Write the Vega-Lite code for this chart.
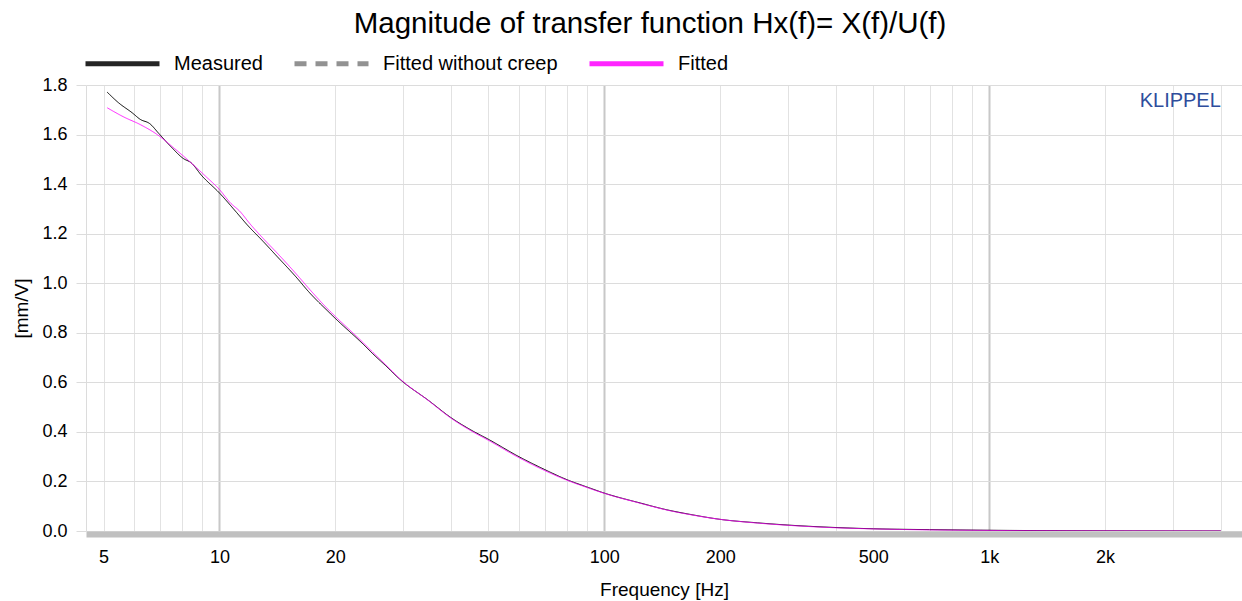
{
  "$schema": "https://vega.github.io/schema/vega-lite/v6.json",
  "width": 1156,
  "height": 446,
  "autosize": {"type": "none"},
  "padding": {"left": 86, "top": 85, "right": 0, "bottom": 70},
  "background": "white",
  "config": {
    "font": "Liberation Sans",
    "view": {"stroke": null},
    "axis": {"labelFont": "Liberation Sans", "titleFont": "Liberation Sans", "labelColor": "#000", "titleColor": "#000", "titleFontWeight": "normal"}
  },
  "title": {
    "text": "Magnitude of transfer function Hx(f)= X(f)/U(f)",
    "fontSize": 29.5,
    "font": "Liberation Sans",
    "fontWeight": "normal",
    "color": "#000",
    "anchor": "middle",
    "frame": "group",
    "baseline": "alphabetic",
    "dx": -14,
    "offset": -38
  },
  "datasets": {
    "measured": [
      {"series": "Measured", "f": 5.11, "v": 1.771},
      {"series": "Measured", "f": 5.47, "v": 1.728},
      {"series": "Measured", "f": 5.93, "v": 1.688},
      {"series": "Measured", "f": 6.23, "v": 1.661},
      {"series": "Measured", "f": 6.59, "v": 1.644},
      {"series": "Measured", "f": 6.96, "v": 1.604},
      {"series": "Measured", "f": 7.46, "v": 1.553},
      {"series": "Measured", "f": 8.08, "v": 1.502},
      {"series": "Measured", "f": 8.41, "v": 1.488},
      {"series": "Measured", "f": 9.02, "v": 1.432},
      {"series": "Measured", "f": 10, "v": 1.364},
      {"series": "Measured", "f": 11.1, "v": 1.284},
      {"series": "Measured", "f": 11.8, "v": 1.236},
      {"series": "Measured", "f": 13.0, "v": 1.168},
      {"series": "Measured", "f": 14.0, "v": 1.114},
      {"series": "Measured", "f": 15.9, "v": 1.021},
      {"series": "Measured", "f": 17.0, "v": 0.968},
      {"series": "Measured", "f": 19.4, "v": 0.878},
      {"series": "Measured", "f": 20, "v": 0.858},
      {"series": "Measured", "f": 23.7, "v": 0.752},
      {"series": "Measured", "f": 25, "v": 0.716},
      {"series": "Measured", "f": 27, "v": 0.668},
      {"series": "Measured", "f": 29.5, "v": 0.611},
      {"series": "Measured", "f": 35, "v": 0.526},
      {"series": "Measured", "f": 40, "v": 0.457},
      {"series": "Measured", "f": 45, "v": 0.408},
      {"series": "Measured", "f": 50, "v": 0.370},
      {"series": "Measured", "f": 60, "v": 0.300},
      {"series": "Measured", "f": 70, "v": 0.248},
      {"series": "Measured", "f": 80, "v": 0.207},
      {"series": "Measured", "f": 90, "v": 0.178},
      {"series": "Measured", "f": 100, "v": 0.153},
      {"series": "Measured", "f": 124, "v": 0.113},
      {"series": "Measured", "f": 145, "v": 0.086},
      {"series": "Measured", "f": 170, "v": 0.065},
      {"series": "Measured", "f": 200, "v": 0.047},
      {"series": "Measured", "f": 250, "v": 0.033},
      {"series": "Measured", "f": 300, "v": 0.024},
      {"series": "Measured", "f": 400, "v": 0.014},
      {"series": "Measured", "f": 500, "v": 0.009},
      {"series": "Measured", "f": 700, "v": 0.0055},
      {"series": "Measured", "f": 1000, "v": 0.003},
      {"series": "Measured", "f": 2000, "v": 0.0008},
      {"series": "Measured", "f": 4000, "v": 0.0002}
    ],
    "fitted": [
      {"series": "Fitted", "f": 5.11, "v": 1.708},
      {"series": "Fitted", "f": 5.64, "v": 1.671},
      {"series": "Fitted", "f": 6.23, "v": 1.640},
      {"series": "Fitted", "f": 6.89, "v": 1.600},
      {"series": "Fitted", "f": 7.61, "v": 1.546},
      {"series": "Fitted", "f": 8.41, "v": 1.488},
      {"series": "Fitted", "f": 9.2, "v": 1.432},
      {"series": "Fitted", "f": 10, "v": 1.378},
      {"series": "Fitted", "f": 10.68, "v": 1.324},
      {"series": "Fitted", "f": 11.3, "v": 1.290},
      {"series": "Fitted", "f": 12, "v": 1.240},
      {"series": "Fitted", "f": 13.0, "v": 1.180},
      {"series": "Fitted", "f": 14.0, "v": 1.128},
      {"series": "Fitted", "f": 15.9, "v": 1.034},
      {"series": "Fitted", "f": 17.0, "v": 0.982},
      {"series": "Fitted", "f": 19.4, "v": 0.886},
      {"series": "Fitted", "f": 20, "v": 0.866},
      {"series": "Fitted", "f": 23.7, "v": 0.758},
      {"series": "Fitted", "f": 25, "v": 0.722},
      {"series": "Fitted", "f": 27, "v": 0.672},
      {"series": "Fitted", "f": 29.5, "v": 0.613},
      {"series": "Fitted", "f": 35, "v": 0.525},
      {"series": "Fitted", "f": 40, "v": 0.455},
      {"series": "Fitted", "f": 45, "v": 0.405},
      {"series": "Fitted", "f": 50, "v": 0.366},
      {"series": "Fitted", "f": 60, "v": 0.296},
      {"series": "Fitted", "f": 70, "v": 0.244},
      {"series": "Fitted", "f": 80, "v": 0.205},
      {"series": "Fitted", "f": 90, "v": 0.176},
      {"series": "Fitted", "f": 100, "v": 0.152},
      {"series": "Fitted", "f": 124, "v": 0.112},
      {"series": "Fitted", "f": 145, "v": 0.085},
      {"series": "Fitted", "f": 170, "v": 0.064},
      {"series": "Fitted", "f": 200, "v": 0.047},
      {"series": "Fitted", "f": 250, "v": 0.032},
      {"series": "Fitted", "f": 300, "v": 0.023},
      {"series": "Fitted", "f": 400, "v": 0.013},
      {"series": "Fitted", "f": 500, "v": 0.0085},
      {"series": "Fitted", "f": 600, "v": 0.006},
      {"series": "Fitted", "f": 700, "v": 0.0045},
      {"series": "Fitted", "f": 800, "v": 0.0035},
      {"series": "Fitted", "f": 1000, "v": 0.0023},
      {"series": "Fitted", "f": 1500, "v": 0.0010},
      {"series": "Fitted", "f": 2000, "v": 0.0006},
      {"series": "Fitted", "f": 3000, "v": 0.0003},
      {"series": "Fitted", "f": 4000, "v": 0.0001}
    ]
  },
  "layer": [
    {
      "data": {"name": "measured"},
      "mark": {"type": "line", "strokeWidth": 1, "clip": true, "interpolate": "monotone"},
      "encoding": {
        "x": {
          "field": "f",
          "type": "quantitative",
          "scale": {"type": "log", "domain": [4.5, 4540], "nice": false},
          "axis": {
            "title": "Frequency [Hz]",
            "titleFontSize": 19,
            "titlePadding": 14,
            "values": [5,6,7,8,9,10,20,30,40,50,60,70,80,90,100,200,300,400,500,600,700,800,900,1000,2000,3000,4000],
            "labelExpr": "indexof([5,10,20,50,100,200,500],datum.value)>=0 ? datum.value : datum.value==1000 ? '1k' : datum.value==2000 ? '2k' : ''",
            "labelFontSize": 18,
            "labelPadding": 14,
            "labelOverlap": false,
            "labelFlush": false,
            "ticks": false,
            "tickSize": 0,
            "domain": true,
            "domainColor": "#c0c0c0",
            "domainWidth": 6,
            "offset": 3,
            "grid": true,
            "gridColor": {"condition": {"test": "datum.value==10||datum.value==100||datum.value==1000", "value": "#c8c8c8"}, "value": "#e2e2e2"},
            "gridWidth": {"condition": {"test": "datum.value==10||datum.value==100||datum.value==1000", "value": 2}, "value": 1}
          }
        },
        "y": {
          "field": "v",
          "type": "quantitative",
          "scale": {"domain": [0, 1.8], "nice": false, "zero": false},
          "axis": {
            "title": "[mm/V]",
            "titleFontSize": 19,
            "titlePadding": 10,
            "values": [0,0.05,0.1,0.15,0.2,0.25,0.3,0.35,0.4,0.45,0.5,0.55,0.6,0.65,0.7,0.75,0.8,0.85,0.9,0.95,1,1.05,1.1,1.15,1.2,1.25,1.3,1.35,1.4,1.45,1.5,1.55,1.6,1.65,1.7,1.75,1.8],
            "labelExpr": "round(datum.value*100) % 20 == 0 ? format(datum.value, '.1f') : ''",
            "labelFontSize": 18,
            "labelPadding": 9,
            "labelOverlap": false,
            "labelFlush": false,
            "domain": true,
            "domainColor": "#dcdcdc",
            "domainWidth": 1,
            "ticks": true,
            "tickColor": "#dcdcdc",
            "tickSize": {"condition": {"test": "round(datum.value*100) % 20 == 0", "value": 10}, "value": -11},
            "grid": true,
            "gridColor": "#dcdcdc",
            "gridOpacity": {"condition": {"test": "round(datum.value*100) % 20 == 0", "value": 1}, "value": 0}
          }
        },
        "order": {"field": "f", "type": "quantitative"},
        "color": {
          "field": "series",
          "type": "nominal",
          "scale": {"domain": ["Measured", "Fitted without creep", "Fitted"], "range": ["#000000", "#808080", "#ff00ff"]},
          "legend": {
            "title": null,
            "orient": "none",
            "direction": "horizontal",
            "legendX": -3,
            "legendY": -61,
            "padding": 0,
            "symbolType": "stroke",
            "symbolSize": 5476,
            "symbolStrokeWidth": 5,
            "labelFontSize": 20,
            "labelFont": "Liberation Sans",
            "labelColor": "#000",
            "labelOffset": 12,
            "columnPadding": 21,
            "labelLimit": 400
          }
        },
        "strokeDash": {
          "field": "series",
          "type": "nominal",
          "scale": {"domain": ["Measured", "Fitted without creep", "Fitted"], "range": [[1, 0], [12, 9], [1, 0]]},
          "legend": null
        }
      }
    },
    {
      "data": {"name": "fitted"},
      "mark": {"type": "line", "strokeWidth": 1, "clip": true, "interpolate": "monotone", "opacity": 0.85},
      "encoding": {
        "x": {"field": "f", "type": "quantitative"},
        "y": {"field": "v", "type": "quantitative"},
        "order": {"field": "f", "type": "quantitative"},
        "color": {"field": "series", "type": "nominal"},
        "strokeDash": {"field": "series", "type": "nominal"}
      }
    },
    {
      "data": {"values": [{"label": "KLIPPEL"}]},
      "mark": {"type": "text", "align": "right", "baseline": "middle", "fontSize": 20, "font": "Liberation Sans", "color": "#2e4d9c"},
      "encoding": {
        "x": {"datum": 4000, "type": "quantitative"},
        "y": {"datum": 1.737, "type": "quantitative"},
        "text": {"field": "label", "type": "nominal"}
      }
    }
  ]
}
